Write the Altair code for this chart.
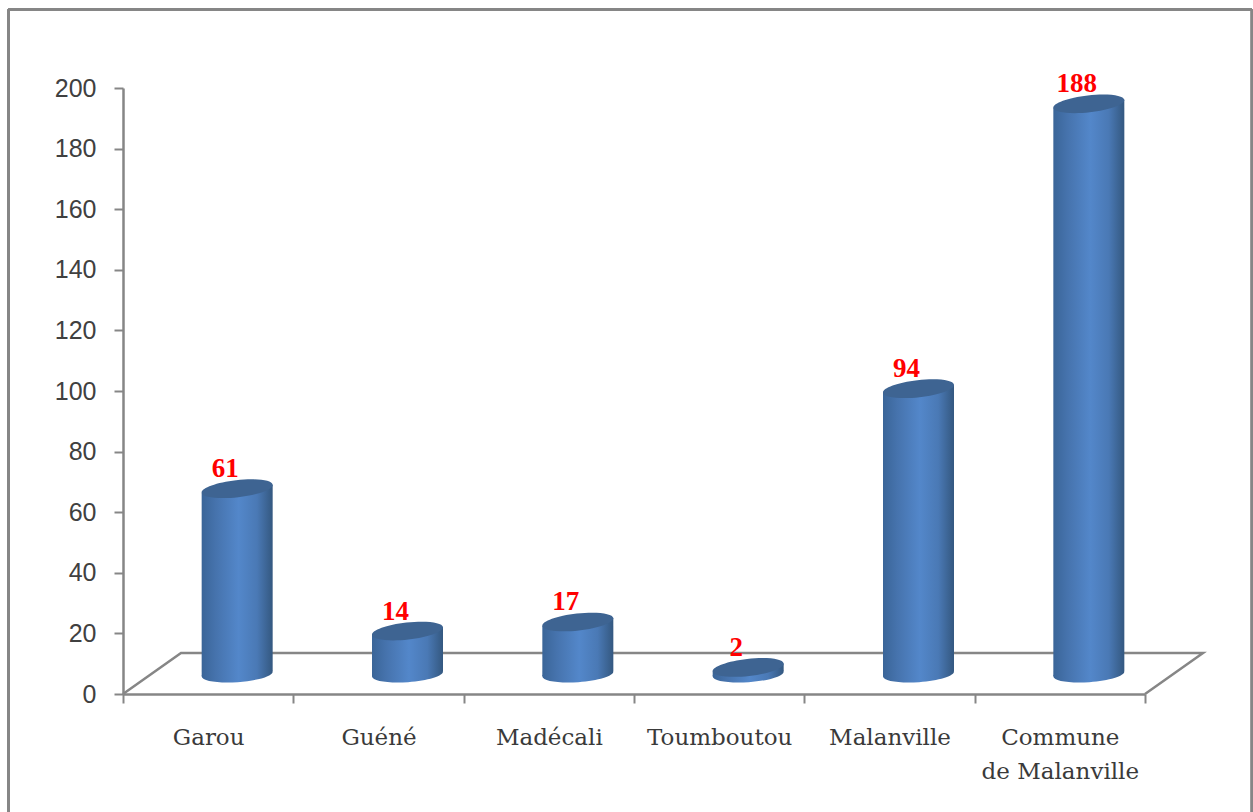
import altair as alt
import pandas as pd

# Counts per locality
categories = ["Garou", "Guéné", "Madécali", "Toumboutou", "Malanville", "Commune|de Malanville"]
values = [61, 14, 17, 2, 94, 188]

WIDTH, HEIGHT = 1022, 606
PX_PER_UNIT = HEIGHT / 200
PX_PER_BAND = WIDTH / len(categories)

# Floor depth in pixels; the cylinders stand in the middle of it
DEPTH_X, DEPTH_Y = 58, 41
BAR_W = 71
GREY = "#868686"

bars = pd.DataFrame({"category": categories, "value": values, "base": [0] * len(values)})

# Floor outline in axis units: front-left, back-left, back-right, front-right
floor = pd.DataFrame({
    "order": [0, 1, 2, 3],
    "fx": [0, DEPTH_X / PX_PER_BAND, 6 + DEPTH_X / PX_PER_BAND, 6],
    "fy": [0, DEPTH_Y / PX_PER_UNIT, DEPTH_Y / PX_PER_UNIT, 0],
})

# Cylinder walls: a two-point area per bar, slanted to meet the tilted end caps
wall_rows = []
for i, (cat, val) in enumerate(zip(categories, values)):
    for side in (-1, 1):
        wall_rows.append({
            "category": cat,
            "wx": i + 0.5 + (DEPTH_X / 2 + side * BAR_W / 2) / PX_PER_BAND,
            "top": val + (DEPTH_Y / 2 + side * 4) / PX_PER_UNIT,
            "bottom": (DEPTH_Y / 2 + side * 2.5) / PX_PER_UNIT,
        })
walls = pd.DataFrame(wall_rows)

cyl_gradient = alt.Gradient(
    gradient="linear", x1=0, x2=1, y1=0, y2=0,
    stops=[
        alt.GradientStop(color="#3a6598", offset=0),
        alt.GradientStop(color="#4673ad", offset=0.2),
        alt.GradientStop(color="#5387ca", offset=0.52),
        alt.GradientStop(color="#4a79b5", offset=0.78),
        alt.GradientStop(color="#345880", offset=1),
    ],
)

# Tilted ellipses in the symbol's unit square
TOP_CAP = "M-1,0.113A1.006,0.24,-6.4,1,1,1,-0.113A1.006,0.24,-6.4,1,1,-1,0.113Z"
BOTTOM_CAP = "M-1,0.07A1.002,0.23,-4,1,1,1,-0.07A1.002,0.23,-4,1,1,-1,0.07Z"

y_scale = alt.Scale(domain=[0, 200], nice=False, zero=True)
x_num = alt.Scale(domain=[0, 6], nice=False, zero=False)
x_band = alt.Scale(paddingInner=0, paddingOuter=0, domain=categories)

x_axis = alt.Axis(
    title=None, labelAngle=0, tickBand="extent", tickSize=9, tickWidth=2, tickColor=GREY,
    domainColor=GREY, domainWidth=2.5, labelFont="DejaVu Serif", labelFontSize=23,
    labelColor="#3a3a3a", labelPadding=23, labelBaseline="top", grid=False,
    labelExpr="split(datum.label, '|')", labelLineHeight=34,
)
y_axis = alt.Axis(
    title=None, values=list(range(0, 201, 20)), tickSize=9, tickWidth=2, tickColor=GREY,
    domainColor=GREY, domainWidth=2.5, labelFont="Liberation Sans", labelFontSize=25,
    labelColor="#404040", labelPadding=18, grid=False,
)

# Category axis carrier and the value axis
axes = alt.Chart(bars).mark_point(opacity=0).encode(
    x=alt.X("category:N", scale=x_band, sort=categories, axis=x_axis),
    y=alt.Y("base:Q", scale=y_scale, axis=y_axis),
)

floor_line = alt.Chart(floor).mark_line(color=GREY, strokeWidth=2.5).encode(
    x=alt.X("fx:Q", scale=x_num, axis=None),
    y=alt.Y("fy:Q", scale=y_scale, axis=y_axis),
    order="order:O",
)

bottom_caps = alt.Chart(bars).mark_point(
    shape=BOTTOM_CAP, size=BAR_W ** 2, filled=True, fill=cyl_gradient, opacity=1,
    strokeWidth=0, xOffset=DEPTH_X / 2, yOffset=-DEPTH_Y / 2 + 0.5,
).encode(
    x=alt.X("category:N", scale=x_band, sort=categories, axis=None),
    y=alt.Y("base:Q", scale=y_scale, axis=y_axis),
)

wall = alt.Chart(walls).mark_area(fill=cyl_gradient, opacity=1).encode(
    x=alt.X("wx:Q", scale=x_num, axis=None),
    y=alt.Y("top:Q", scale=y_scale, axis=y_axis, stack=None),
    y2="bottom:Q",
    detail="category:N",
)

top_caps = alt.Chart(bars).mark_point(
    shape=TOP_CAP, size=BAR_W ** 2, filled=True, fill="#3e6492", opacity=1,
    strokeWidth=0, xOffset=DEPTH_X / 2, yOffset=-DEPTH_Y / 2,
).encode(
    x=alt.X("category:N", scale=x_band, sort=categories, axis=None),
    y=alt.Y("value:Q", scale=y_scale, axis=y_axis),
)

value_labels = alt.Chart(bars).mark_text(
    font="Liberation Serif", fontWeight="bold", fontSize=27, color="#ff0000",
    baseline="middle", align="center", xOffset=DEPTH_X / 2 - 12, yOffset=-DEPTH_Y / 2 - 19.5,
).encode(
    x=alt.X("category:N", scale=x_band, sort=categories, axis=None),
    y=alt.Y("value:Q", scale=y_scale, axis=y_axis),
    text="value:Q",
)

# Outer chart border: left, top and right edges
frame = alt.Chart(bars).mark_rule(color=GREY, strokeWidth=2.5).encode(
    x=alt.value(-114.5), x2=alt.value(-114.5), y=alt.value(-78.5), y2=alt.value(724)
)
frame_top = alt.Chart(bars).mark_rule(color=GREY, strokeWidth=2.5).encode(
    x=alt.value(-114.5), x2=alt.value(1129), y=alt.value(-78.5), y2=alt.value(-78.5)
)
frame_right = alt.Chart(bars).mark_rule(color=GREY, strokeWidth=2.5).encode(
    x=alt.value(1129), x2=alt.value(1129), y=alt.value(-78.5), y2=alt.value(724)
)

chart = (
    alt.layer(axes, frame, frame_top, frame_right, floor_line, bottom_caps, wall, top_caps, value_labels)
    .resolve_scale(x="independent")
    .properties(
        width=WIDTH, height=HEIGHT,
        padding={"left": 123, "top": 88, "right": 108, "bottom": 118},
        autosize=alt.AutoSizeParams(type="none"),
        background="#ffffff",
    )
    .configure_view(stroke=None)
)

chart.save("out.html", embed_options={"renderer": "svg", "actions": False})
